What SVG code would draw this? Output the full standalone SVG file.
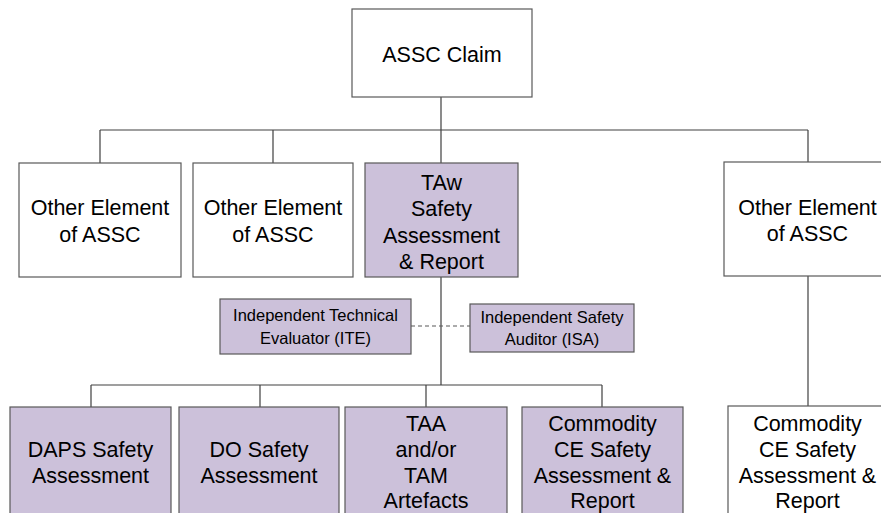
<svg xmlns="http://www.w3.org/2000/svg" width="881" height="513" viewBox="0 0 881 513">
<style>
.box{stroke:#595959;stroke-width:1.2}
.w{fill:#ffffff}
.p{fill:#ccc1da}
.t{font-family:"Liberation Sans",Arial,sans-serif;font-size:21.5px;fill:#000;text-anchor:middle}
.s{font-family:"Liberation Sans",Arial,sans-serif;font-size:16.5px;fill:#000;text-anchor:middle}
.c{stroke:#404040;stroke-width:1.2;fill:none}
.d{stroke:#595959;stroke-width:1.2;fill:none;stroke-dasharray:4 3}
</style>
<rect width="881" height="513" fill="#ffffff"/>
<g id="connectors">
<path class="c" d="M441 97V130M100 130H808M100 130V163M273 130V163M441 130V163M808 130V162"/>
<path class="c" d="M441 277V385M91 385H602M91 385V407M260 385V407M426 385V407M602 385V407"/>
<path class="c" d="M808 276V406"/>
<path class="d" d="M411 326H470"/>
</g>
<g id="assc-claim">
<rect class="box w" x="352" y="9" width="180" height="88"/>
<text class="t" x="442" y="62" font-size="22">ASSC Claim</text>
</g>
<g id="other-1">
<rect class="box w" x="19" y="163" width="162" height="114"/>
<text class="t" x="100" y="215">Other Element</text>
<text class="t" x="100" y="241.5">of ASSC</text>
</g>
<g id="other-2">
<rect class="box w" x="193" y="163" width="160" height="114"/>
<text class="t" x="273" y="215">Other Element</text>
<text class="t" x="273" y="241.5">of ASSC</text>
</g>
<g id="taw">
<rect class="box p" x="365" y="163" width="153" height="114"/>
<text class="t" x="441.5" y="189.5">TAw</text>
<text class="t" x="441.5" y="216">Safety</text>
<text class="t" x="441.5" y="242.5">Assessment</text>
<text class="t" x="441.5" y="269">&amp; Report</text>
</g>
<g id="other-3">
<rect class="box w" x="724" y="162" width="168" height="114"/>
<text class="t" x="807.5" y="214.5">Other Element</text>
<text class="t" x="807.5" y="241">of ASSC</text>
</g>
<g id="ite">
<rect class="box p" x="220" y="299" width="191" height="55"/>
<text class="s" x="315.5" y="321">Independent Technical</text>
<text class="s" x="315.5" y="344">Evaluator (ITE)</text>
</g>
<g id="isa">
<rect class="box p" x="470" y="304" width="164" height="48"/>
<text class="s" x="552" y="323">Independent Safety</text>
<text class="s" x="552" y="345">Auditor (ISA)</text>
</g>
<g id="daps">
<rect class="box p" x="10" y="407" width="161" height="114"/>
<text class="t" x="90.5" y="457">DAPS Safety</text>
<text class="t" x="90.5" y="483">Assessment</text>
</g>
<g id="do">
<rect class="box p" x="179" y="407" width="160" height="114"/>
<text class="t" x="259" y="457">DO Safety</text>
<text class="t" x="259" y="483">Assessment</text>
</g>
<g id="taa">
<rect class="box p" x="345" y="407" width="162" height="114"/>
<text class="t" x="426" y="431">TAA</text>
<text class="t" x="426" y="457">and/or</text>
<text class="t" x="426" y="483">TAM</text>
<text class="t" x="426" y="508">Artefacts</text>
</g>
<g id="commodity-1">
<rect class="box p" x="522" y="407" width="161" height="114"/>
<text class="t" x="602.5" y="431">Commodity</text>
<text class="t" x="602.5" y="457">CE Safety</text>
<text class="t" x="602.5" y="483">Assessment &amp;</text>
<text class="t" x="602.5" y="508">Report</text>
</g>
<g id="commodity-2">
<rect class="box w" x="728" y="406" width="159" height="114"/>
<text class="t" x="807.5" y="431">Commodity</text>
<text class="t" x="807.5" y="457">CE Safety</text>
<text class="t" x="807.5" y="483">Assessment &amp;</text>
<text class="t" x="807.5" y="508">Report</text>
</g>
</svg>
